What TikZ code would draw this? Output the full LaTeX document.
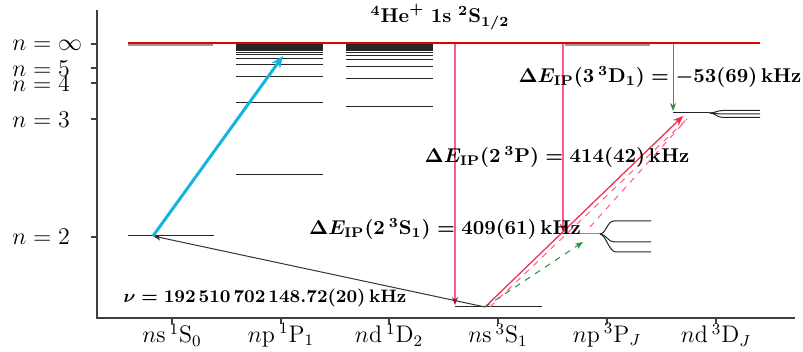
\documentclass[tikz,border=0pt]{standalone}
\usepackage{amsmath}
\usetikzlibrary{arrows.meta}
\definecolor{pinkln}{RGB}{255,90,140}
\definecolor{darkred}{RGB}{200,0,50}
\definecolor{redln}{RGB}{240,40,70}
\definecolor{grn}{RGB}{40,140,60}
\definecolor{cyanln}{RGB}{20,180,220}
\definecolor{limred}{RGB}{230,0,0}
\begin{document}
\begin{tikzpicture}[x=0.5pt,y=-0.5pt,
  lvl/.style={line width=0.5pt, black!85},
  greylvl/.style={line width=0.5pt, black!45},
  axisln/.style={line width=0.6pt, black!75},
  lbl/.style={font=\fontsize{10}{12}\selectfont\boldmath, inner sep=0pt},
  axlbl/.style={font=\fontsize{11.5}{14}\selectfont, inner sep=0pt},
  tip/.style={-{Stealth[length=4pt,width=3pt]}}
]
\useasboundingbox (0,0) rectangle (803,352);
% axes
\coordinate (Ytop) at (97,10);
\coordinate (O) at (97,318);
\coordinate (Xend) at (795,318);
\draw[axisln] (Ytop) -- (O) -- (Xend);
\foreach \y in {44,68,83,119,237} \draw[axisln] (91,\y) -- (97,\y);
\foreach \x in {172,281,389,498,607,716} \draw[axisln] (\x,318) -- (\x,324);
% left labels
\node[axlbl,anchor=west] (ninf) at (12,45) {$n=\infty$};
\node[axlbl,anchor=west] (n5) at (12,69) {$n=5$};
\node[axlbl,anchor=west] (n4) at (12,84) {$n=4$};
\node[axlbl,anchor=west] (n3) at (12,120) {$n=3$};
\node[axlbl,anchor=west] (n2) at (12,237) {$n=2$};
% bottom labels
\node[axlbl] (c1) at (172,335) {$n\mathrm{s}\,{}^1\mathrm{S}_0$};
\node[axlbl] (c2) at (281,335) {$n\mathrm{p}\,{}^1\mathrm{P}_1$};
\node[axlbl] (c3) at (389,335) {$n\mathrm{d}\,{}^1\mathrm{D}_2$};
\node[axlbl] (c4) at (498,335) {$n\mathrm{s}\,{}^3\mathrm{S}_1$};
\node[axlbl] (c5) at (607,335) {$n\mathrm{p}\,{}^3\mathrm{P}_J$};
\node[axlbl] (c6) at (716,335) {$n\mathrm{d}\,{}^3\mathrm{D}_J$};
% levels
\draw[lvl] (128,236) -- (214,236);
\foreach \n in {2,...,40} \draw[lvl] (236,{44+524/(\n*\n)}) -- (323,{44+524/(\n*\n)});
\foreach \n in {3,...,40} \draw[lvl] (346,{44+560/(\n*\n)}) -- (433,{44+560/(\n*\n)});
\draw[lvl] (455,307) -- (542,307);
% 2 3P fine structure
\draw[greylvl] (565,234) -- (600,234);
\draw[lvl] (600,234) .. controls (606,234) and (607,221) .. (614,221) -- (651,221);
\draw[lvl] (600,234) .. controls (606,234) and (608,242) .. (614,242) -- (651,242);
\draw[lvl] (600,234) .. controls (606,235) and (609,252) .. (616,252) -- (651,252);
% 3 3D fine structure
\draw[lvl] (673,113) -- (710,113);
\draw[lvl] (710,113) .. controls (715,113) and (717,110.5) .. (723,110.5) -- (760,110.5);
\draw[lvl] (710,113) .. controls (715,113) and (717,114) .. (723,114) -- (760,114);
\draw[lvl] (710,113) .. controls (715,113) and (717,117.5) .. (723,117.5) -- (760,117.5);
% ionisation limit
\draw[black!40, line width=1pt] (128,45.5) -- (213,45.5);
\draw[black!40, line width=1pt] (565,45.5) -- (650,45.5);
\draw[limred, line width=1.1pt] (128,43) -- (760,43);
\node[lbl] (title) at (440,17) {${}^4\mathrm{He}^+\ 1\mathrm{s}\ {}^2\mathrm{S}_{1/2}$};
% coordinates for transitions
\coordinate (s1) at (153,236);
\coordinate (p1) at (283,56);
\coordinate (s3) at (485,307);
\coordinate (s3b) at (490,307);
\coordinate (p3) at (583,242);
\coordinate (p3b) at (590,227);
\coordinate (d3) at (683,116);
\coordinate (d3b) at (687,119);
\coordinate (limA) at (455,44);
\coordinate (limAe) at (455,305);
\coordinate (limB) at (563,44);
\coordinate (limBe) at (563,232);
\coordinate (limC) at (673,44);
\coordinate (limCe) at (673,111);
% ionisation arrows
\draw[pinkln, line width=0.6pt, -{Stealth[length=4pt,width=3pt,color=darkred]}] (limA) -- (limAe);
\draw[pinkln, line width=0.6pt, -{Stealth[length=4pt,width=3pt,color=darkred]}] (limB) -- (limBe);
\draw[black!55, line width=0.5pt, -{Stealth[length=4pt,width=3pt,color=grn]}] (limC) -- (limCe);
% transitions
\draw[black!80, line width=0.5pt, tip] (s3) -- (s1);
\draw[cyanln, line width=1.5pt, -{Stealth[length=6pt,width=5pt]}] (s1) -- (p1);
\draw[pinkln, line width=0.5pt, dashed] (s3b) -- (d3b);
\draw[redln, line width=0.6pt, -{Stealth[length=5pt,width=4pt]}] (s3) -- (d3);
\draw[pinkln, line width=0.5pt, dashed] (p3b) -- (d3b);
\draw[grn, line width=0.5pt, dashed, -{Stealth[length=4pt,width=3pt]}] (s3) -- (p3);
% value labels
\node[lbl] (d3lab) at (660,77) {$\Delta E_{\mathrm{IP}}(3\,{}^3\mathrm{D}_1) = -53(69)\,\mathrm{kHz}$};
\node[lbl] (p3lab) at (557,157) {$\Delta E_{\mathrm{IP}}(2\,{}^3\mathrm{P}) = 414(42)\,\mathrm{kHz}$};
\node[lbl] (s3lab) at (445,229) {$\Delta E_{\mathrm{IP}}(2\,{}^3\mathrm{S}_1) = 409(61)\,\mathrm{kHz}$};
\node[lbl, font=\fontsize{9}{11}\selectfont\boldmath] (nulab) at (265,298) {$\nu = 192\mskip2.5mu510\mskip2.5mu702\mskip2.5mu148.72(20)\,\mathrm{kHz}$};
\end{tikzpicture}
\end{document}
